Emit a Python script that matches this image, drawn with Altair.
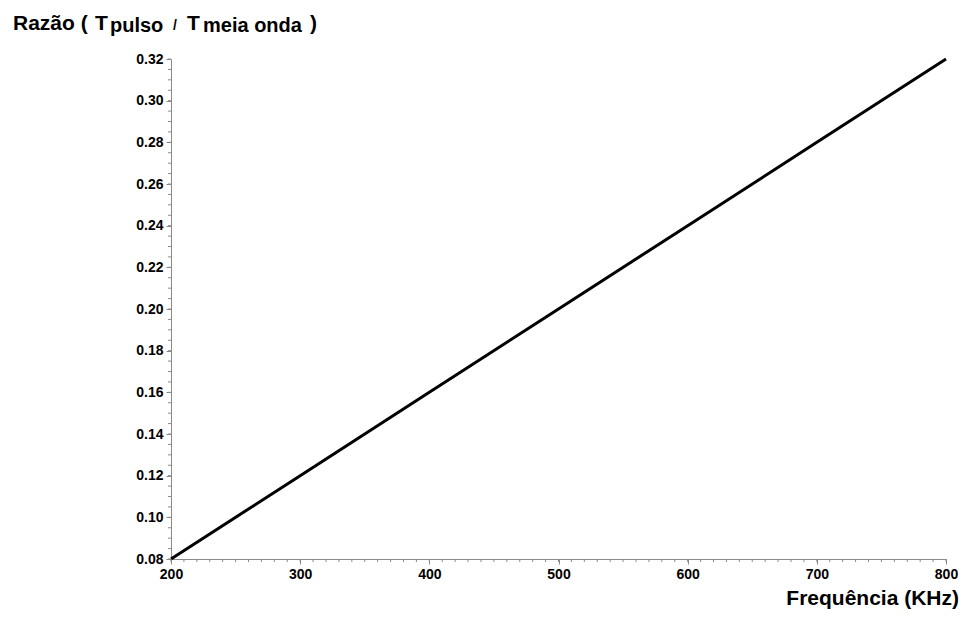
import altair as alt
import pandas as pd

# Data
freq_khz = [200, 300, 400, 500, 600, 700, 800]
ratio = [0.08, 0.12, 0.16, 0.20, 0.24, 0.28, 0.32]

x_major = [200, 300, 400, 500, 600, 700, 800]
y_major = [0.08, 0.10, 0.12, 0.14, 0.16, 0.18, 0.20, 0.22, 0.24, 0.26, 0.28, 0.30, 0.32]
x_minor = list(range(200, 801, 10))
y_minor = [round(0.08 + 0.005 * i, 3) for i in range(49)]

FONT = "Liberation Sans"
AXIS_GREY = "#8a8a8a"

df = pd.DataFrame({"f": freq_khz, "r": ratio})
xs = alt.Scale(domain=[200, 800], nice=False, zero=False)
ys = alt.Scale(domain=[0.08, 0.32], nice=False, zero=False)

line = alt.Chart(df).mark_line(color="black", strokeWidth=3).encode(
    x=alt.X("f:Q", scale=xs, axis=alt.Axis(
        values=x_major, title=None, format="d", grid=False,
        domainColor=AXIS_GREY, tickColor=AXIS_GREY, tickSize=5,
        labelFont=FONT, labelFontWeight="bold", labelFontSize=14,
        labelColor="black", labelPadding=3, labelFlush=False)),
    y=alt.Y("r:Q", scale=ys, axis=alt.Axis(
        values=y_major, title=None, format=".2f", grid=False,
        domainColor=AXIS_GREY, tickColor=AXIS_GREY, tickSize=5,
        labelFont=FONT, labelFontWeight="bold", labelFontSize=14,
        labelColor="black", labelPadding=3, labelFlush=False)),
)

xminor = alt.Chart(pd.DataFrame({"f": x_minor})).mark_rule(
    color=AXIS_GREY, strokeWidth=1).encode(
    x=alt.X("f:Q", scale=xs), y=alt.value(500), y2=alt.value(503))

yminor = alt.Chart(pd.DataFrame({"r": y_minor})).mark_rule(
    color=AXIS_GREY, strokeWidth=1).encode(
    y=alt.Y("r:Q", scale=ys), x=alt.value(-3), x2=alt.value(0))


def txt(s, x, y, size=21, align="left"):
    return alt.Chart(pd.DataFrame({"t": [s]})).mark_text(
        text=s, font=FONT, fontWeight="bold", fontSize=size, color="black",
        align=align, baseline="alphabetic").encode(
        x=alt.value(x), y=alt.value(y))


title_parts = [
    txt("Razão (", -158, -29),
    txt("T", -76, -29),
    txt("pulso", -61, -27, size=20),
    txt("/", 2, -29, size=14),
    txt("T", 16, -29),
    txt("meia onda", 32, -27, size=20),
    txt(")", 139, -29),
    txt("Frequência (KHz)", 788, 546, align="right"),
]

chart = alt.layer(line, xminor, yminor, *title_parts).properties(
    width=775, height=500,
    autosize=alt.AutoSizeParams(type="none"),
    padding={"left": 163, "top": 51, "right": 14, "bottom": 54},
).configure_view(stroke=None).configure_axis(domainWidth=1)

chart.save("out.html", embed_options={"renderer": "svg", "actions": False})
